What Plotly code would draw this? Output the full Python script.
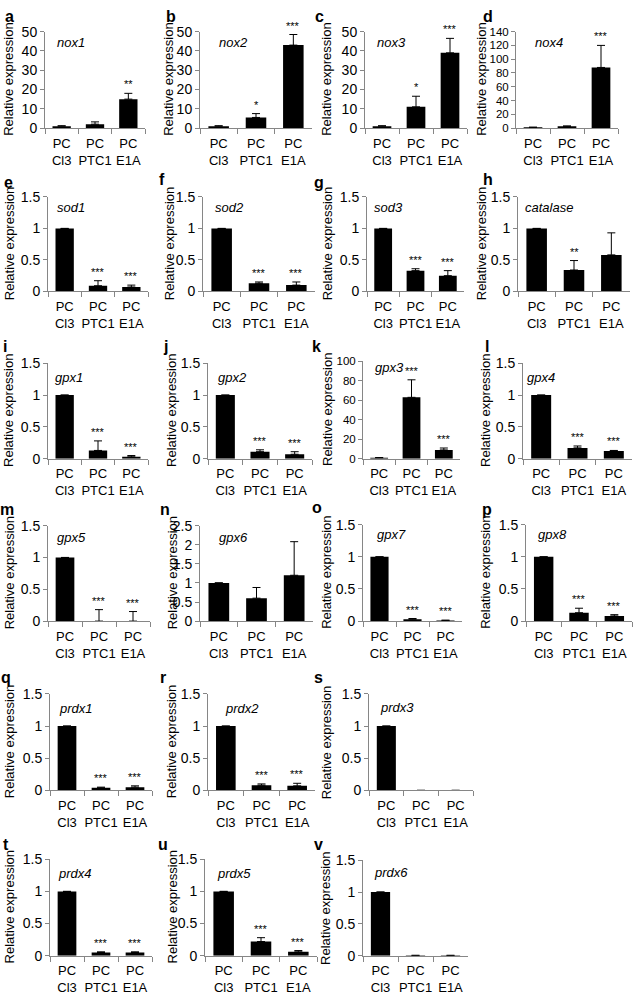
import plotly.graph_objects as go

# ---------------- data ----------------
categories = ["PC<br>Cl3", "PC<br>PTC1", "PC<br>E1A"]

nox1 = [1.0, 2.0, 15.0];      nox1_err = [0.2, 1.2, 3.0];      nox1_sig = ["", "", "**"]
nox2 = [1.0, 5.5, 43.0];      nox2_err = [0.2, 2.0, 5.5];      nox2_sig = ["", "*", "***"]
nox3 = [1.0, 11.0, 39.0];     nox3_err = [0.2, 5.5, 7.5];      nox3_sig = ["", "*", "***"]
nox4 = [1.0, 2.5, 88.0];      nox4_err = [0.3, 0.6, 32.0];     nox4_sig = ["", "", "***"]
sod1 = [1.0, 0.09, 0.07];     sod1_err = [0.0, 0.08, 0.03];    sod1_sig = ["", "***", "***"]
sod2 = [1.0, 0.13, 0.10];     sod2_err = [0.0, 0.02, 0.05];    sod2_sig = ["", "***", "***"]
sod3 = [1.0, 0.33, 0.25];     sod3_err = [0.0, 0.03, 0.08];    sod3_sig = ["", "***", "***"]
catalase = [1.0, 0.34, 0.58]; catalase_err = [0.0, 0.15, 0.35]; catalase_sig = ["", "**", ""]
gpx1 = [1.0, 0.13, 0.03];     gpx1_err = [0.0, 0.15, 0.02];    gpx1_sig = ["", "***", "***"]
gpx2 = [1.0, 0.11, 0.07];     gpx2_err = [0.0, 0.03, 0.04];    gpx2_sig = ["", "***", "***"]
gpx3 = [1.0, 63.0, 9.0];      gpx3_err = [0.2, 18.0, 2.0];     gpx3_sig = ["", "***", "***"]
gpx4 = [1.0, 0.17, 0.12];     gpx4_err = [0.0, 0.03, 0.01];    gpx4_sig = ["", "***", "***"]
gpx5 = [1.0, 0.0, 0.0];       gpx5_err = [0.0, 0.18, 0.15];    gpx5_sig = ["", "***", "***"]
gpx6 = [1.0, 0.60, 1.20];     gpx6_err = [0.0, 0.28, 0.88];    gpx6_sig = ["", "", ""]
gpx7 = [1.0, 0.03, 0.01];     gpx7_err = [0.0, 0.01, 0.005];   gpx7_sig = ["", "***", "***"]
gpx8 = [1.0, 0.13, 0.08];     gpx8_err = [0.0, 0.07, 0.02];    gpx8_sig = ["", "***", "***"]
prdx1 = [1.0, 0.04, 0.05];    prdx1_err = [0.0, 0.01, 0.02];   prdx1_sig = ["", "***", "***"]
prdx2 = [1.0, 0.08, 0.07];    prdx2_err = [0.0, 0.02, 0.04];   prdx2_sig = ["", "***", "***"]
prdx3 = [1.0, 0.0, 0.0];      prdx3_err = [0.0, 0.0, 0.0];     prdx3_sig = ["", "", ""]
prdx4 = [1.0, 0.05, 0.05];    prdx4_err = [0.0, 0.01, 0.01];   prdx4_sig = ["", "***", "***"]
prdx5 = [1.0, 0.22, 0.06];    prdx5_err = [0.0, 0.06, 0.02];   prdx5_sig = ["", "***", "***"]
prdx6 = [1.0, 0.005, 0.005];  prdx6_err = [0.0, 0.0, 0.0];     prdx6_sig = ["", "", ""]

genes = {
    "nox1": (nox1, nox1_err, nox1_sig), "nox2": (nox2, nox2_err, nox2_sig),
    "nox3": (nox3, nox3_err, nox3_sig), "nox4": (nox4, nox4_err, nox4_sig),
    "sod1": (sod1, sod1_err, sod1_sig), "sod2": (sod2, sod2_err, sod2_sig),
    "sod3": (sod3, sod3_err, sod3_sig), "catalase": (catalase, catalase_err, catalase_sig),
    "gpx1": (gpx1, gpx1_err, gpx1_sig), "gpx2": (gpx2, gpx2_err, gpx2_sig),
    "gpx3": (gpx3, gpx3_err, gpx3_sig), "gpx4": (gpx4, gpx4_err, gpx4_sig),
    "gpx5": (gpx5, gpx5_err, gpx5_sig), "gpx6": (gpx6, gpx6_err, gpx6_sig),
    "gpx7": (gpx7, gpx7_err, gpx7_sig), "gpx8": (gpx8, gpx8_err, gpx8_sig),
    "prdx1": (prdx1, prdx1_err, prdx1_sig), "prdx2": (prdx2, prdx2_err, prdx2_sig),
    "prdx3": (prdx3, prdx3_err, prdx3_sig), "prdx4": (prdx4, prdx4_err, prdx4_sig),
    "prdx5": (prdx5, prdx5_err, prdx5_sig), "prdx6": (prdx6, prdx6_err, prdx6_sig),
}

# ---------------- layout of panels (pixels) ----------------
# letter, gene, x_left, x_right, y_top, y_bottom, ymax, dtick, title_x, letter_xy, label_xy
panels = [
    ("a", "nox1", 45, 145, 24, 122, 50, 10, 9, (9, 9), (55, 35)),
    ("b", "nox2", 200, 312, 24, 122, 50, 10, 169, (171, 9), (217, 35)),
    ("c", "nox3", 365, 467, 24, 122, 50, 10, 327, (319, 9), (375, 35)),
    ("d", "nox4", 516, 618, 24, 122, 140, 20, 482, (488, 9), (533, 35)),
    ("e", "sod1", 48, 148, 192, 288, 1.5, 0.5, 9, (8, 177), (55, 203)),
    ("f", "sod2", 203, 315, 192, 288, 1.5, 0.5, 169, (162, 174), (213, 203)),
    ("g", "sod3", 367, 464, 192, 288, 1.5, 0.5, 327, (319, 177), (372, 203)),
    ("h", "catalase", 518, 630, 192, 288, 1.5, 0.5, 481, (488, 174), (523, 203)),
    ("i", "gpx1", 48, 148, 361, 458, 1.5, 0.5, 9, (5, 344), (53, 375)),
    ("j", "gpx2", 208, 312, 361, 458, 1.5, 0.5, 172, (165, 344), (216, 375)),
    ("k", "gpx3", 363, 460, 359, 458, 100, 20, 327, (316, 344), (373, 365)),
    ("l", "gpx4", 523, 632, 361, 458, 1.5, 0.5, 486, (487, 344), (525, 375)),
    ("m", "gpx5", 48, 150, 526, 623, 1.5, 0.5, 9, (7, 510), (55, 538)),
    ("n", "gpx6", 200, 313, 526, 623, 2.5, 0.5, 172, (165, 510), (217, 538)),
    ("o", "gpx7", 363, 462, 525, 623, 1.5, 0.5, 327, (317, 508), (375, 535)),
    ("p", "gpx8", 526, 632, 525, 623, 1.5, 0.5, 486, (487, 510), (536, 535)),
    ("q", "prdx1", 50, 152, 697, 795, 1.5, 0.5, 9, (6, 680), (57, 712)),
    ("r", "prdx2", 208, 315, 697, 795, 1.5, 0.5, 171, (163, 680), (223, 712)),
    ("s", "prdx3", 369, 473, 697, 795, 1.5, 0.5, 326, (318, 680), (378, 711)),
    ("t", "prdx4", 50, 152, 865, 963, 1.5, 0.5, 9, (6, 850), (56, 879)),
    ("u", "prdx5", 205, 317, 865, 963, 1.5, 0.5, 172, (163, 850), (215, 879)),
    ("v", "prdx6", 363, 468, 866, 963, 1.5, 0.5, 326, (318, 850), (372, 878)),
]

W, H = 633, 1006
FONT = "Liberation Sans, Arial, sans-serif"
AXIS = "#868686"


def px(x):
    return x / W


def py(y):
    return 1 - y / H


fig = go.Figure()
annotations = []
layout = {}

for i, (letter, gene, x0, x1, yt, yb, ymax, dt, tx, lxy, gxy) in enumerate(panels):
    n = i + 1
    sfx = "" if n == 1 else str(n)
    vals, errs, sig = genes[gene]
    fig.add_trace(go.Bar(
        x=categories, y=vals, xaxis="x" + sfx, yaxis="y" + sfx,
        marker=dict(color="black", line=dict(width=0)), width=0.55,
        error_y=dict(type="data", symmetric=False, array=errs,
                     arrayminus=[0] * len(errs), color="black",
                     thickness=1, width=4, visible=True),
        showlegend=False, hoverinfo="y",
    ))
    ticks = []
    v = 0.0
    while v <= ymax + 1e-9:
        ticks.append(round(v, 3))
        v += dt
    ysize = 11.5 if ymax >= 100 else 14
    layout["xaxis" + sfx] = dict(
        domain=[px(x0), px(x1)], anchor="y" + sfx, type="category",
        range=[-0.5, 2.5], showline=True, linecolor=AXIS, linewidth=1,
        ticks="outside", tickson="boundaries", ticklen=5, tickcolor=AXIS,
        tickangle=0, ticklabelstandoff=3,
        tickfont=dict(size=13, color="black", family=FONT),
        showgrid=False, zeroline=False, fixedrange=True,
    )
    layout["yaxis" + sfx] = dict(
        domain=[py(yb), py(yt)], anchor="x" + sfx, range=[0, ymax],
        tickvals=ticks, ticktext=[("%g" % t) for t in ticks],
        showline=True, linecolor=AXIS, linewidth=1, ticks="outside",
        ticklen=4, tickcolor=AXIS,
        tickfont=dict(size=ysize, color="black", family=FONT),
        showgrid=False, zeroline=False, fixedrange=True,
    )
    # y axis title
    annotations.append(dict(
        text="Relative expression", textangle=-90, xref="paper", yref="paper",
        x=px(tx), y=py((yt + yb) / 2), xanchor="center", yanchor="middle",
        showarrow=False, font=dict(size=13, color="black", family=FONT),
    ))
    # panel letter
    annotations.append(dict(
        text="<b>%s</b>" % letter, xref="paper", yref="paper",
        x=px(lxy[0]), y=py(lxy[1]), xanchor="center", yanchor="middle",
        showarrow=False, font=dict(size=16, color="black", family=FONT),
    ))
    # gene label
    annotations.append(dict(
        text="<i>%s</i>" % gene, xref="paper", yref="paper",
        x=px(gxy[0]), y=py(gxy[1]), xanchor="left", yanchor="middle",
        showarrow=False, font=dict(size=13, color="black", family=FONT),
    ))
    # significance stars
    for c, m, e, s in zip(categories, vals, errs, sig):
        if s:
            annotations.append(dict(
                text=s, xref="x" + sfx, yref="y" + sfx, x=c, y=m + e,
                xanchor="center", yanchor="bottom", yshift=1, showarrow=False,
                font=dict(size=11, color="black", family=FONT),
            ))

fig.update_layout(
    width=W, height=H, margin=dict(l=0, r=0, t=0, b=0),
    paper_bgcolor="white", plot_bgcolor="white",
    font=dict(family=FONT, color="black"),
    annotations=annotations, bargap=0.45,
    **layout,
)

fig.write_html(
    "out.html",
    config={"displayModeBar": False, "staticPlot": True},
    post_script="document.body.style.margin='0px';document.body.style.overflow='hidden';",
)
